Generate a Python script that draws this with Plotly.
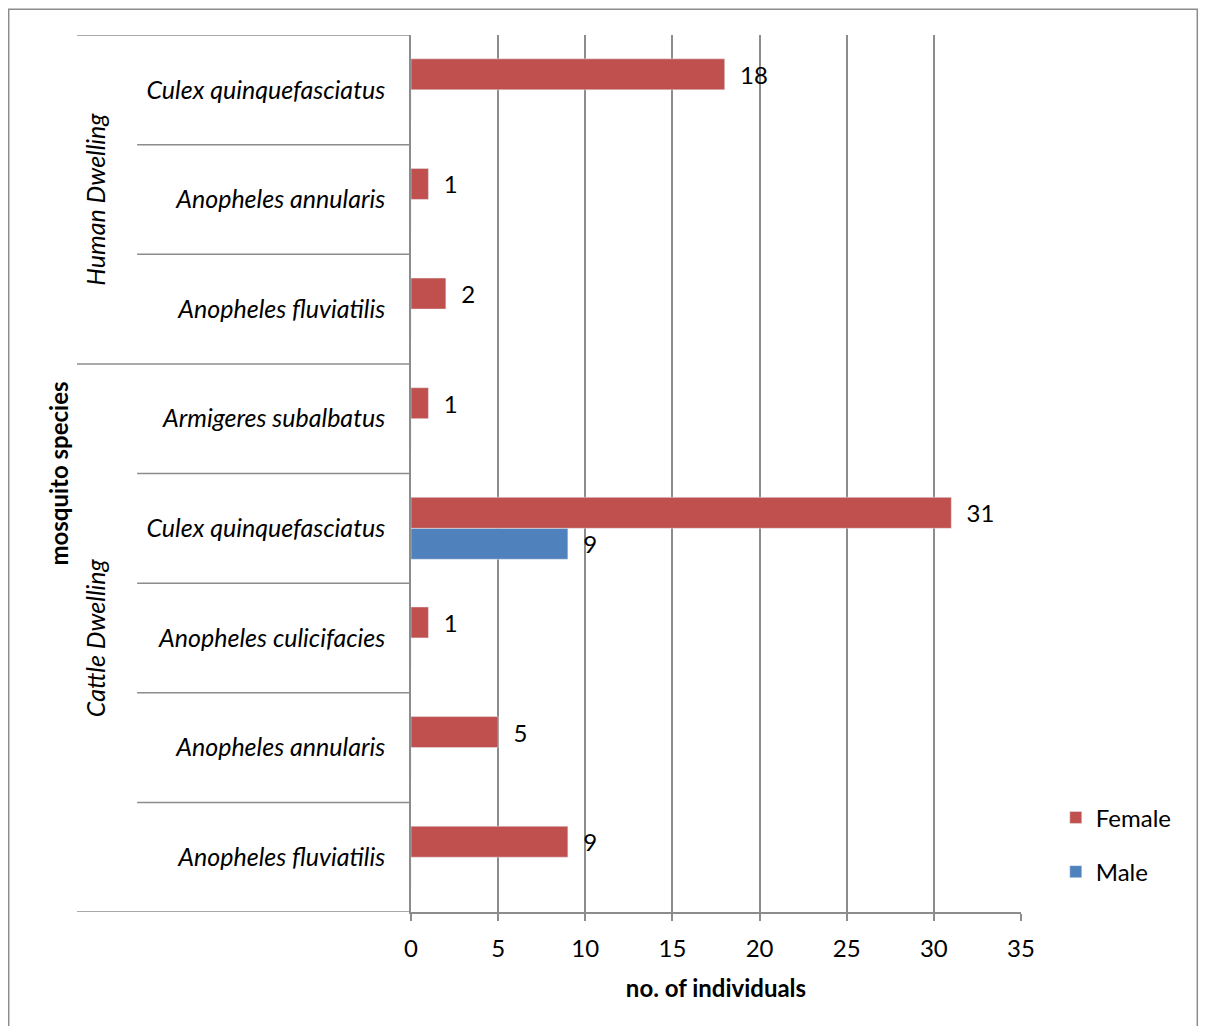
import plotly.graph_objects as go

# ---- data (bottom to top) ----
species = ["Anopheles fluviatilis", "Anopheles annularis", "Anopheles culicifacies",
           "Culex quinquefasciatus", "Armigeres subalbatus",
           "Anopheles fluviatilis", "Anopheles annularis", "Culex quinquefasciatus"]
groups = ["Cattle Dwelling", "Human Dwelling"]
group_sizes = [5, 3]
female = [9, 5, 1, 31, 1, 2, 1, 18]
male = [0, 0, 0, 9, 0, 0, 0, 0]
x_ticks = [0, 5, 10, 15, 20, 25, 30, 35]

FEMALE_C = "#C0504D"
MALE_C = "#4F81BD"
GRID = "#8C8C8C"
FONT = "Lato"
FS = 25
pos = list(range(len(species)))

def lab(vals):
    return ["\u00a0\u00a0" + str(v) if v else "" for v in vals]

fig = go.Figure()
fig.add_trace(go.Bar(
    y=pos, x=male, orientation="h", name="Male", marker_color=MALE_C,
    text=lab(male), textposition="outside", constraintext="none",
    textfont=dict(family=FONT, size=FS - 1, color="#000"), cliponaxis=False,
    legendgroup="m", legendrank=2))
fig.add_trace(go.Bar(
    y=pos, x=female, orientation="h", name="Female", marker_color=FEMALE_C,
    text=lab(female), textposition="outside", constraintext="none",
    textfont=dict(family=FONT, size=FS - 1, color="#000"), cliponaxis=False,
    legendgroup="f", legendrank=1))

shapes = []
n = len(species)
boundaries = [0]
acc = 0
for s in group_sizes:
    acc += s
    boundaries.append(acc)
for i in range(n + 1):
    yv = i - 0.5
    x0 = -0.5475 if i in boundaries else -0.449
    shapes.append(dict(type="line", xref="paper", yref="y", x0=x0, x1=0,
                       y0=yv, y1=yv, line=dict(color=GRID, width=1.5)))
# outer frame
shapes.append(dict(type="rect", xref="paper", yref="paper", x0=-0.6595, x1=1.289,
                   y0=-0.14, y1=1.0295, line=dict(color="#8C8C8C", width=1.5),
                   fillcolor="rgba(0,0,0,0)", layer="below"))

annotations = []
start = 0
for g, s in zip(groups, group_sizes):
    mid = start + (s - 1) / 2
    annotations.append(dict(text=g, xref="paper", yref="y", x=-0.5175, y=mid,
                            xanchor="center", yanchor="middle",
                            textangle=-90, showarrow=False,
                            font=dict(family=FONT, size=FS, style="italic", color="#000")))
    start += s
annotations.append(dict(text="<b>mosquito species</b>", xref="paper", yref="paper",
                        x=-0.5785, y=0.5, xanchor="center", yanchor="middle",
                        textangle=-90, showarrow=False,
                        font=dict(family=FONT, size=FS - 1, color="#000")))

fig.update_layout(
    width=1191, height=1018,
    margin=dict(l=403, r=178, t=27, b=114),
    plot_bgcolor="white", paper_bgcolor="white",
    barmode="group", bargap=0.435, bargroupgap=0,
    shapes=shapes, annotations=annotations,
    showlegend=True,
    legend=dict(x=1.057, y=0.133, xanchor="left", yanchor="top",
                traceorder="grouped", tracegroupgap=20,
                font=dict(family=FONT, size=FS - 1, color="#000"),
                bgcolor="rgba(0,0,0,0)"),
    xaxis=dict(range=[0, 35], tickvals=x_ticks, showgrid=True, gridcolor=GRID,
               gridwidth=1.5, zeroline=False, showline=True, linecolor=GRID,
               linewidth=1.5, ticks="outside", ticklen=7, tickcolor=GRID,
               tickwidth=1.5, ticklabelstandoff=7,
               tickfont=dict(family=FONT, size=FS - 1, color="#000"),
               title=dict(text="<b>no. of individuals</b>", standoff=20,
                          font=dict(family=FONT, size=FS - 1, color="#000"))),
    yaxis=dict(range=[-0.5, n - 0.5], tickvals=pos, ticktext=species,
               showgrid=False, zeroline=False, showline=True, linecolor=GRID,
               linewidth=1.5, ticks="", ticklabelstandoff=19,
               tickfont=dict(family=FONT, size=FS, style="italic", color="#000")),
)

fig.write_html("out.html")
